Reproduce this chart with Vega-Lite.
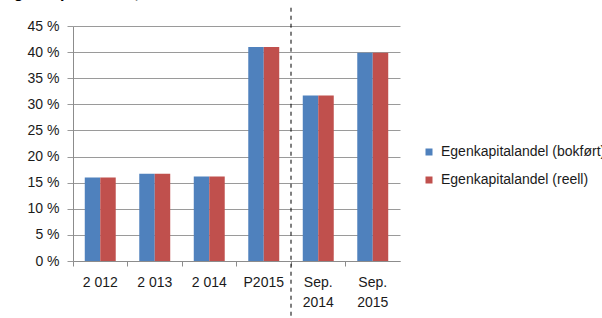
{
  "$schema": "https://vega.github.io/schema/vega-lite/v6.json",
  "width": 327,
  "height": 235,
  "autosize": {"type": "none"},
  "padding": {"left": 73, "top": 26, "right": 202, "bottom": 57},
  "background": "white",
  "title": {
    "text": "Egenkapitalandel, %",
    "anchor": "start",
    "frame": "group",
    "dx": -70,
    "offset": 6,
    "fontSize": 16,
    "fontWeight": "bold",
    "font": "Liberation Sans",
    "color": "#000000"
  },
  "config": {
    "view": {"stroke": null},
    "font": "Liberation Sans"
  },
  "layer": [
    {
      "data": {
        "values": [
          {"periode": "2 012", "serie": "Egenkapitalandel (bokført)", "verdi": 16.0},
          {"periode": "2 012", "serie": "Egenkapitalandel (reell)", "verdi": 16.0},
          {"periode": "2 013", "serie": "Egenkapitalandel (bokført)", "verdi": 16.7},
          {"periode": "2 013", "serie": "Egenkapitalandel (reell)", "verdi": 16.7},
          {"periode": "2 014", "serie": "Egenkapitalandel (bokført)", "verdi": 16.2},
          {"periode": "2 014", "serie": "Egenkapitalandel (reell)", "verdi": 16.2},
          {"periode": "P2015", "serie": "Egenkapitalandel (bokført)", "verdi": 41.0},
          {"periode": "P2015", "serie": "Egenkapitalandel (reell)", "verdi": 41.0},
          {"periode": "Sep. 2014", "serie": "Egenkapitalandel (bokført)", "verdi": 31.7},
          {"periode": "Sep. 2014", "serie": "Egenkapitalandel (reell)", "verdi": 31.7},
          {"periode": "Sep. 2015", "serie": "Egenkapitalandel (bokført)", "verdi": 39.9},
          {"periode": "Sep. 2015", "serie": "Egenkapitalandel (reell)", "verdi": 39.9}
        ]
      },
      "mark": {"type": "bar"},
      "encoding": {
        "x": {
          "field": "periode",
          "type": "nominal",
          "title": null,
          "scale": {
            "domain": ["2 012", "2 013", "2 014", "P2015", "Sep. 2014", "Sep. 2015"],
            "paddingInner": 0,
            "paddingOuter": 0
          },
          "axis": {
            "bandPosition": 0,
            "labelAngle": 0,
            "labelExpr": "datum.value == 'Sep. 2014' ? ['Sep.', '2014'] : datum.value == 'Sep. 2015' ? ['Sep.', '2015'] : datum.value",
            "labelFontSize": 14,
            "labelColor": "#1a1a1a",
            "labelLineHeight": 20,
            "labelPadding": 9,
            "labelOverlap": false,
            "tickSize": 5,
            "tickColor": "#8c8c8c",
            "domainColor": "#8c8c8c",
            "grid": false
          }
        },
        "xOffset": {
          "field": "serie",
          "type": "nominal",
          "scale": {"paddingInner": 0, "paddingOuter": 0.76}
        },
        "y": {
          "field": "verdi",
          "type": "quantitative",
          "title": null,
          "scale": {"domain": [0, 45], "nice": false, "zero": true},
          "axis": {
            "values": [0, 5, 10, 15, 20, 25, 30, 35, 40, 45],
            "tickCount": 10,
            "labelExpr": "datum.value + ' %'",
            "labelFontSize": 14,
            "labelColor": "#1a1a1a",
            "labelPadding": 8,
            "labelOverlap": false,
            "labelFlush": false,
            "tickSize": 6,
            "tickColor": "#9a9a9a",
            "domainColor": "#8c8c8c",
            "gridColor": "#9a9a9a",
            "gridOpacity": 1
          }
        },
        "color": {
          "field": "serie",
          "type": "nominal",
          "scale": {"range": ["#4F81BD", "#C0504D"]},
          "legend": {
            "title": null,
            "orient": "none",
            "legendX": 349,
            "legendY": 119,
            "symbolType": "square",
            "symbolSize": 49,
            "symbolStrokeWidth": 0,
            "labelFontSize": 14,
            "labelColor": "#1a1a1a",
            "labelOffset": 5,
            "labelLimit": 0,
            "rowPadding": 14,
            "padding": 0
          }
        }
      }
    },
    {
      "data": {"values": [{"skille": "Sep. 2014", "fra": 48.5, "til": -11}]},
      "mark": {"type": "rule", "strokeDash": [4, 4], "color": "#000000", "strokeWidth": 1},
      "encoding": {
        "x": {"field": "skille", "type": "nominal", "bandPosition": 0},
        "y": {
          "field": "fra",
          "type": "quantitative",
          "title": null,
          "axis": {
            "values": [0, 5, 10, 15, 20, 25, 30, 35, 40, 45],
            "tickCount": 10,
            "labelExpr": "datum.value + ' %'",
            "labelFontSize": 14,
            "labelColor": "#1a1a1a",
            "labelPadding": 8,
            "labelOverlap": false,
            "labelFlush": false,
            "tickSize": 6,
            "tickColor": "#9a9a9a",
            "domainColor": "#8c8c8c",
            "gridColor": "#9a9a9a",
            "gridOpacity": 1
          }
        },
        "y2": {"field": "til"}
      }
    }
  ]
}
